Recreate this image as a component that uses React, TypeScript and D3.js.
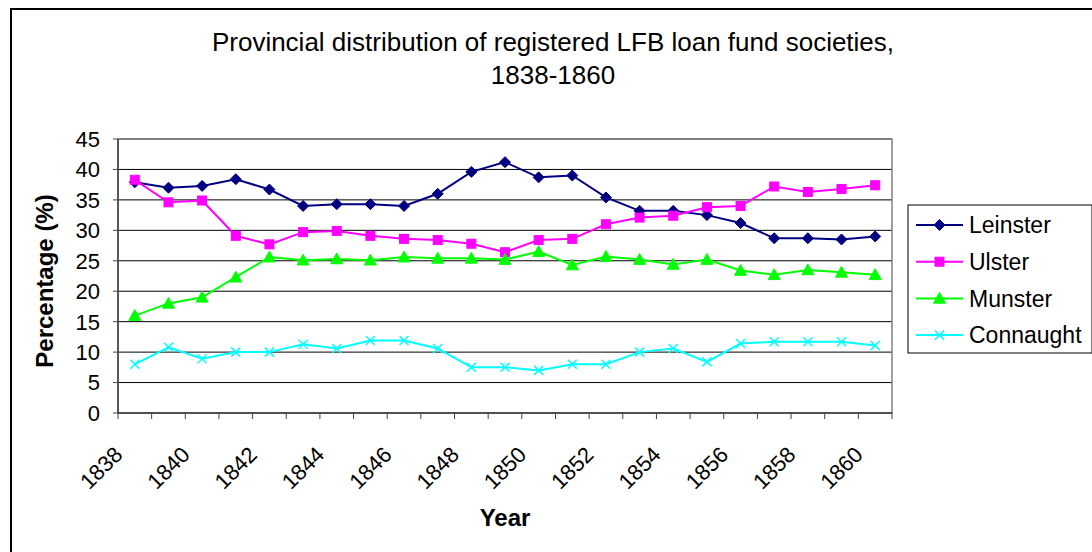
import React from "react";
import * as d3 from "d3";

const years: number[] = [1838,1839,1840,1841,1842,1843,1844,1845,1846,1847,1848,1849,1850,1851,1852,1853,1854,1855,1856,1857,1858,1859,1860];
const leinster: number[] = [37.9,37.0,37.3,38.4,36.7,34.0,34.3,34.3,34.0,36.0,39.6,41.2,38.7,39.0,35.4,33.2,33.2,32.5,31.2,28.7,28.7,28.5,29.0];
const ulster: number[] = [38.3,34.6,34.9,29.1,27.7,29.7,29.9,29.1,28.6,28.4,27.8,26.4,28.4,28.6,31.0,32.1,32.4,33.8,34.0,37.2,36.3,36.8,37.4];
const munster: number[] = [16.0,18.0,19.0,22.3,25.6,25.1,25.3,25.1,25.6,25.4,25.4,25.2,26.5,24.3,25.7,25.2,24.4,25.2,23.4,22.7,23.5,23.1,22.7];
const connaught: number[] = [8.0,10.8,8.9,10.0,10.0,11.3,10.6,11.9,11.9,10.6,7.5,7.5,7.0,8.0,8.0,10.0,10.6,8.4,11.4,11.7,11.7,11.7,11.1];
const yTicks: number[] = [0,5,10,15,20,25,30,35,40,45];
const xLabelYears: number[] = [1838,1840,1842,1844,1846,1848,1850,1852,1854,1856,1858,1860];

const seriesNames = ["Leinster", "Ulster", "Munster", "Connaught"];
const seriesData = [leinster, ulster, munster, connaught];
const seriesColors = ["#000080", "#FF00FF", "#00FF00", "#00FFFF"];
const seriesMarkers = ["diamond", "square", "triangle", "x"];

const FONT = "'Liberation Sans', Arial, sans-serif";

function Marker({ type, x, y, color }: { type: string; x: number; y: number; color: string }) {
  if (type === "diamond") {
    const s = 5.5;
    return <path d={`M${x},${y - s}L${x + s},${y}L${x},${y + s}L${x - s},${y}Z`} fill={color} stroke={color} strokeWidth={1} />;
  }
  if (type === "square") {
    const s = 4.5;
    return <rect x={x - s} y={y - s} width={2 * s} height={2 * s} fill={color} stroke={color} strokeWidth={1} />;
  }
  if (type === "triangle") {
    const s = 6;
    return <path d={`M${x},${y - s}L${x + s},${y + s * 0.8}L${x - s},${y + s * 0.8}Z`} fill={color} stroke={color} strokeWidth={1} />;
  }
  const s = 4.5;
  return <path d={`M${x - s},${y - s}L${x + s},${y + s}M${x - s},${y + s}L${x + s},${y - s}`} stroke={color} strokeWidth={1.5} fill="none" />;
}

export default function App() {
  const left = 118, right = 892, top = 139, bottom = 413;
  const x = d3.scaleBand<number>().domain(years).range([left, right]).padding(0);
  const y = d3.scaleLinear().domain([0, 45]).range([bottom, top]);
  const cx = (yr: number) => (x(yr) as number) + x.bandwidth() / 2;
  const line = d3.line<number>().x((_, i) => cx(years[i])).y((v) => y(v));
  const bandEdges = years.map((yr) => x(yr) as number).concat([right]);

  const legendX = 908, legendY = 205, legendW = 184, legendH = 148;

  return (
    <svg width={1092} height={552} style={{ position: "absolute", left: 0, top: 0, background: "#fff" }} fontFamily={FONT}>
      <rect x={0} y={0} width={1092} height={552} fill="#fff" />
      <path d="M11,560V9H1100" fill="none" stroke="#000" strokeWidth={2} />
      <text x={553} y={51} textAnchor="middle" fontSize={26} fill="#000">Provincial distribution of registered LFB loan fund societies,</text>
      <text x={553} y={84} textAnchor="middle" fontSize={26} fill="#000">1838-1860</text>

      {yTicks.map((t) => (
        <line key={"g" + t} x1={left} x2={right} y1={y(t)} y2={y(t)} stroke="#000" strokeWidth={1} />
      ))}
      <rect x={left} y={top} width={right - left} height={bottom - top} fill="none" stroke="#808080" strokeWidth={1.5} />
      <line x1={left} x2={left} y1={top} y2={bottom} stroke="#404040" strokeWidth={1.5} />
      {yTicks.map((t) => (
        <g key={"yt" + t}>
          <line x1={left - 5} x2={left} y1={y(t)} y2={y(t)} stroke="#404040" strokeWidth={1} />
          <text x={left - 18} y={y(t)} dy="0.36em" textAnchor="end" fontSize={22} fill="#000">{t}</text>
        </g>
      ))}
      <line x1={left} x2={right} y1={bottom} y2={bottom} stroke="#404040" strokeWidth={1.5} />
      {bandEdges.map((e, i) => (
        <line key={"xt" + i} x1={e} x2={e} y1={bottom} y2={bottom + 6} stroke="#404040" strokeWidth={1} />
      ))}
      {xLabelYears.map((yr) => (
        <text key={"xl" + yr} transform={`translate(${cx(yr) - 11},${456}) rotate(-45)`} textAnchor="end" fontSize={22} fill="#000">{yr}</text>
      ))}
      <text transform={`translate(53,281) rotate(-90)`} textAnchor="middle" fontSize={24} fontWeight="bold" fill="#000">Percentage (%)</text>
      <text x={505} y={526} textAnchor="middle" fontSize={24} fontWeight="bold" fill="#000">Year</text>

      {seriesData.map((data, si) => (
        <g key={"s" + si}>
          <path d={line(data) || ""} fill="none" stroke={seriesColors[si]} strokeWidth={2} />
          {data.map((v, i) => (
            <Marker key={i} type={seriesMarkers[si]} x={cx(years[i])} y={y(v)} color={seriesColors[si]} />
          ))}
        </g>
      ))}

      <rect x={legendX} y={legendY} width={legendW} height={legendH} fill="#fff" stroke="#000" strokeWidth={1} />
      {seriesNames.map((n, i) => {
        const ly = 225 + i * 36.7;
        return (
          <g key={"lg" + i}>
            <line x1={916} x2={963} y1={ly} y2={ly} stroke={seriesColors[i]} strokeWidth={2} />
            <Marker type={seriesMarkers[i]} x={939.5} y={ly} color={seriesColors[i]} />
            <text x={969} y={ly} dy="0.36em" fontSize={23} fill="#000">{n}</text>
          </g>
        );
      })}
    </svg>
  );
}
